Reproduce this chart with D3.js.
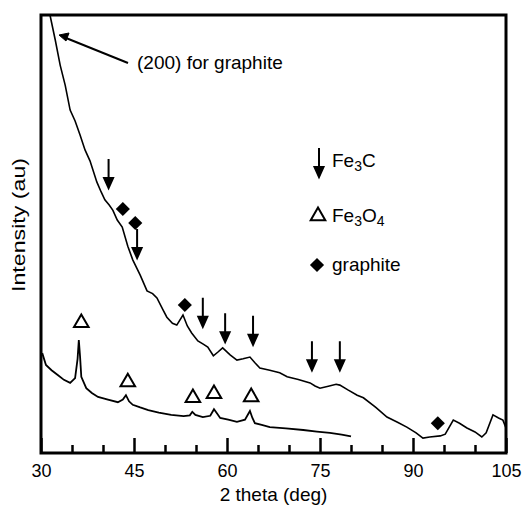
<!DOCTYPE html>
<html>
<head>
<meta charset="utf-8">
<script src="https://cdn.jsdelivr.net/npm/d3@7"></script>
<style>
  body { margin: 0; background: #fff; }
  text { font-family: "Liberation Sans", Arial, sans-serif; fill: #000; }
</style>
</head>
<body>
<script>
// upper pattern (2 theta, intensity a.u.)
var upperTheta = [31.2, 31.45, 32.3, 33.1, 33.9, 34.7, 35.5, 36.3, 37.1, 37.9, 39.0, 39.7, 40.3, 41.0, 41.6, 42.3, 43.1, 44.0, 44.8, 46.0, 47.1, 48.0, 48.7, 49.7, 50.3, 51.2, 51.9, 52.9, 53.6, 54.3, 55.3, 56.1, 56.9, 57.8, 58.5, 59.3, 60.5, 61.6, 62.6, 63.7, 64.5, 65.3, 66.9, 68.5, 69.7, 71.5, 73.4, 74.2, 75.0, 76.5, 77.6, 78.2, 79.5, 81.0, 82.0, 84.0, 85.8, 87.5, 89.0, 90.5, 91.6, 92.7, 94.4, 95.2, 96.5, 97.5, 98.7, 100.0, 101.1, 101.8, 102.9, 103.8, 104.5, 105.0];
var upperVal   = [103, 100, 94.3, 88.5, 84.0, 78.3, 75.8, 72.6, 69.2, 66.7, 61.9, 59.6, 57.8, 56.6, 55.4, 53.2, 51.6, 47.2, 44.1, 40.6, 37.0, 36.4, 35.4, 32.6, 31.0, 29.6, 29.2, 31.5, 29.0, 27.4, 25.6, 24.9, 24.2, 22.2, 23.0, 24.0, 22.4, 21.2, 21.5, 21.9, 20.6, 19.4, 18.9, 18.3, 17.4, 16.8, 16.0, 15.3, 14.8, 15.3, 15.7, 15.5, 14.4, 13.2, 12.6, 10.4, 8.2, 7.0, 5.9, 4.6, 3.4, 3.65, 3.9, 4.3, 7.5, 6.8, 5.7, 4.8, 3.65, 4.6, 8.7, 8.0, 7.5, 5.7];

// lower pattern
var lowerTheta = [30.2, 30.8, 31.7, 32.7, 33.7, 34.7, 35.5, 35.9, 36.1, 36.3, 36.5, 37.3, 38.2, 39.2, 40.8, 42.4, 43.2, 43.7, 44.2, 44.8, 46.0, 47.3, 49.0, 51.0, 53.0, 54.0, 54.4, 54.9, 56.1, 57.3, 57.9, 58.4, 58.9, 60.2, 61.6, 62.9, 63.7, 64.1, 64.5, 65.6, 66.9, 69.5, 72.3, 74.5, 76.6, 78.5, 80.0];
var lowerVal   = [22.8, 20.1, 18.9, 17.8, 16.7, 16.0, 17.1, 21.5, 25.8, 22.0, 17.4, 14.8, 13.7, 12.8, 12.2, 11.6, 12.2, 13.2, 11.8, 11.0, 10.4, 9.8, 9.2, 8.7, 8.4, 8.6, 9.4, 8.7, 8.2, 8.5, 10.0, 9.0, 8.0, 7.6, 7.1, 7.6, 9.6, 8.0, 6.8, 6.4, 5.9, 5.6, 5.25, 4.9, 4.6, 4.2, 3.8];

// peak markers
var fe3cTheta = [40.9, 45.5, 56.1, 59.7, 64.2, 73.7, 78.2];
var fe3cTip   = [60.5, 44.5, 28.8, 25.3, 24.7, 18.9, 18.9];
var fe3o4Theta = [36.5, 44.0, 54.5, 57.9, 63.9];
var fe3o4Val   = [29.7, 16.2, 12.6, 13.5, 12.8];
var graphiteTheta = [43.2, 45.2, 53.2, 94.0];
var graphiteVal   = [55.7, 52.5, 33.8, 6.8];

var majorTicks = [30, 45, 60, 75, 90, 105];
var minorTicks = [35, 40, 50, 55, 65, 70, 80, 85, 95, 100];

var W = 531, H = 505;
var m = { left: 41, right: 506, top: 15, bottom: 453 };

var svg = d3.select("body").append("svg")
    .attr("width", W)
    .attr("height", H);

var x = d3.scaleLinear().domain([30, 105]).range([m.left, m.right]);
var y = d3.scaleLinear().domain([0, 100]).range([m.bottom, m.top]);

svg.append("clipPath").attr("id", "clip")
  .append("rect")
    .attr("x", m.left).attr("y", m.top)
    .attr("width", m.right - m.left).attr("height", m.bottom - m.top);

var line = d3.line()
    .x(function (d) { return x(d[0]); })
    .y(function (d) { return y(d[1]); });

var plot = svg.append("g").attr("clip-path", "url(#clip)");

plot.append("path")
    .datum(d3.zip(upperTheta, upperVal))
    .attr("d", line)
    .attr("fill", "none")
    .attr("stroke", "#000")
    .attr("stroke-width", 1.6);

plot.append("path")
    .datum(d3.zip(lowerTheta, lowerVal))
    .attr("d", line)
    .attr("fill", "none")
    .attr("stroke", "#000")
    .attr("stroke-width", 1.8);

// axis ticks (inward)
svg.append("g")
    .attr("transform", "translate(0," + m.bottom + ")")
    .call(d3.axisBottom(x).tickValues(majorTicks).tickSize(-15).tickPadding(11).tickFormat(d3.format("d")))
    .call(function (g) {
      g.select(".domain").remove();
      g.selectAll("line").attr("stroke-width", 2.5);
      g.selectAll("text").attr("font-size", 18).style("font-family", "Liberation Sans, Arial, sans-serif");
    });

svg.append("g")
    .attr("transform", "translate(0," + m.bottom + ")")
    .call(d3.axisBottom(x).tickValues(minorTicks).tickSize(-8).tickFormat(""))
    .call(function (g) {
      g.select(".domain").remove();
      g.selectAll("line").attr("stroke-width", 2.5);
    });

// frame
svg.append("rect")
    .attr("x", m.left).attr("y", m.top)
    .attr("width", m.right - m.left).attr("height", m.bottom - m.top)
    .attr("fill", "none")
    .attr("stroke", "#000")
    .attr("stroke-width", 3);

// markers
function arrowPath(px, py) {
  return "M" + px + "," + (py - 29) + "L" + px + "," + (py - 8) +
         "M" + (px - 4.5) + "," + (py - 10) + "L" + (px + 4.5) + "," + (py - 10) + "L" + px + "," + py + "Z";
}

svg.selectAll(".fe3c")
    .data(d3.zip(fe3cTheta, fe3cTip))
    .enter().append("path")
    .attr("d", function (d) { return arrowPath(x(d[0]), y(d[1])); })
    .attr("fill", "#000")
    .attr("stroke", "#000")
    .attr("stroke-width", 2);

var tri = d3.symbol().type(d3.symbolTriangle).size(92);
svg.selectAll(".fe3o4")
    .data(d3.zip(fe3o4Theta, fe3o4Val))
    .enter().append("path")
    .attr("d", tri)
    .attr("transform", function (d) { return "translate(" + x(d[0]) + "," + y(d[1]) + ")"; })
    .attr("fill", "#fff")
    .attr("stroke", "#000")
    .attr("stroke-width", 2);

var dia = d3.symbol().type(d3.symbolSquare).size(100);
svg.selectAll(".graphite")
    .data(d3.zip(graphiteTheta, graphiteVal))
    .enter().append("path")
    .attr("d", dia)
    .attr("transform", function (d) { return "translate(" + x(d[0]) + "," + y(d[1]) + ") rotate(45)"; })
    .attr("fill", "#000");

// legend
svg.append("path").attr("d", arrowPath(319, 177))
    .attr("fill", "#000").attr("stroke", "#000").attr("stroke-width", 2);
var t1 = svg.append("text").attr("x", 332).attr("y", 167).attr("font-size", 19);
t1.append("tspan").text("Fe");
t1.append("tspan").attr("font-size", 14).attr("dy", 4).text("3");
t1.append("tspan").attr("dy", -4).text("C");

svg.append("path").attr("d", tri)
    .attr("transform", "translate(318,216)")
    .attr("fill", "#fff").attr("stroke", "#000").attr("stroke-width", 2);
var t2 = svg.append("text").attr("x", 332).attr("y", 222).attr("font-size", 19);
t2.append("tspan").text("Fe");
t2.append("tspan").attr("font-size", 14).attr("dy", 4).text("3");
t2.append("tspan").attr("dy", -4).text("O");
t2.append("tspan").attr("font-size", 14).attr("dy", 4).text("4");

svg.append("path").attr("d", dia)
    .attr("transform", "translate(317,265) rotate(45)")
    .attr("fill", "#000");
svg.append("text").attr("x", 332).attr("y", 271).attr("font-size", 19).text("graphite");

// annotation
svg.append("line")
    .attr("x1", 128).attr("y1", 63).attr("x2", 66).attr("y2", 38)
    .attr("stroke", "#000").attr("stroke-width", 2);
svg.append("path")
    .attr("d", "M59,35 L69,33 L66,41 Z")
    .attr("fill", "#000").attr("stroke", "#000").attr("stroke-width", 1);
svg.append("text").attr("x", 137).attr("y", 69).attr("font-size", 19).text("(200) for graphite");

// axis titles
svg.append("text")
    .attr("x", (m.left + m.right) / 2).attr("y", 501)
    .attr("text-anchor", "middle").attr("font-size", 19)
    .text("2 theta (deg)");

svg.append("text")
    .attr("transform", "translate(25,225) rotate(-90)")
    .attr("text-anchor", "middle").attr("font-size", 18)
    .attr("textLength", 134).attr("lengthAdjust", "spacingAndGlyphs")
    .text("Intensity (au)");
</script>
</body>
</html>
